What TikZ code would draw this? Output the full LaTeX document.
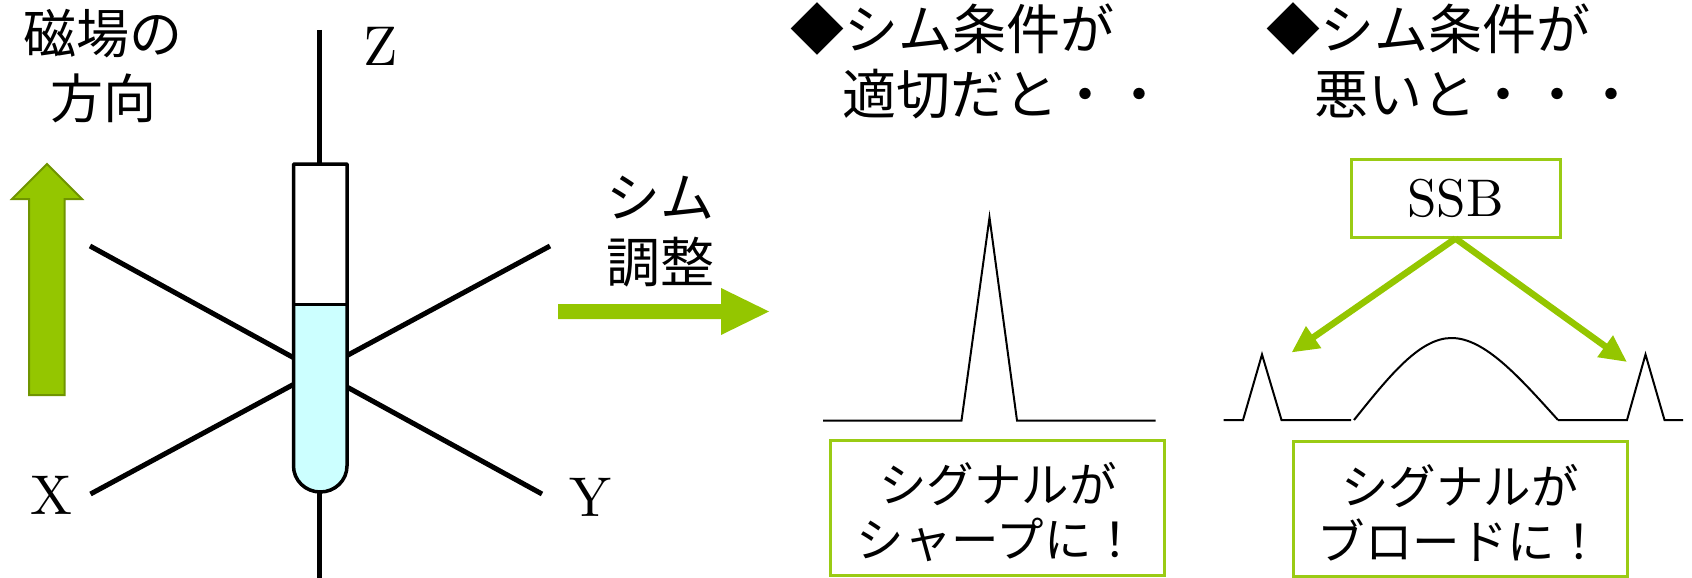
\documentclass[tikz,border=0pt]{standalone}
\usepackage{fontspec}
\usetikzlibrary{arrows.meta}
\newfontfamily\jpfont{Noto Sans CJK JP}
\newfontfamily\labelfont[Extension=.otf]{lmroman10-regular}
\definecolor{leaf}{HTML}{94C600}
\definecolor{leafedge}{HTML}{6F9400}
\definecolor{framegreen}{HTML}{9ACB14}
\definecolor{liquid}{HTML}{CCFFFF}
\tikzset{
  x=1pt,y=-1pt,
  jptext/.style={inner sep=0pt,align=center,font=\jpfont\fontsize{54}{65}\selectfont},
  fieldtext/.style={inner sep=0pt,align=center,font=\jpfont\fontsize{53}{65}\selectfont},
  boxtext/.style={inner sep=0pt,align=center,font=\jpfont\fontsize{47.5}{55}\selectfont},
  headtext/.style={jptext,align=left,anchor=north west},
  axislabel/.style={inner sep=0pt,font=\labelfont\fontsize{56}{56}\selectfont},
  axisline/.style={line width=5pt,black},
  framebox/.style={draw=framegreen,line width=3pt,fill=white,inner sep=0pt},
  spectrum/.style={line width=2pt,black,line join=miter},
  ssbarrow/.style={line width=6.5pt,leaf,-{Triangle[length=27pt,width=25pt,fill=leaf]}},
}
\begin{document}
\begin{tikzpicture}
\useasboundingbox (0,0) rectangle (1692,578);

% laboratory axes, drawn behind the sample tube
\coordinate (zt) at (319.5,30);
\coordinate (zb) at (319.5,578);
\coordinate (xa) at (90,246);
\coordinate (xb) at (542,494);
\coordinate (ya) at (90.5,494);
\coordinate (yb) at (550,246);
\draw[axisline] (xa) -- (xb);
\draw[axisline] (ya) -- (yb);
\draw[axisline] (zt) -- (zb);

% sample tube with its liquid
\fill[white] (293.5,164) rectangle (347,304.5);
\fill[liquid] (293.5,304.5) -- (347,304.5) -- (347,466)
  arc[start angle=0,end angle=180,x radius=26.75,y radius=26] -- cycle;
\draw[line width=3.5pt,line join=round] (293.5,466) -- (293.5,164) -- (347,164) -- (347,466)
  arc[start angle=0,end angle=180,x radius=26.75,y radius=26];
\draw[line width=2.5pt] (293.5,304.5) -- (347,304.5);

% field direction arrow
\draw[line width=2pt,draw=leafedge,fill=leaf,line join=miter]
  (47,164) -- (82,199) -- (64.5,199) -- (64.5,395) -- (29,395) -- (29,199) -- (12,199) -- cycle;

\node[fieldtext] (field) at (103,66) {磁場の\\方向};
\node[axislabel] (zlab) at (381,46) {Z};
\node[axislabel] (xlab) at (51,495) {X};
\node[axislabel] (ylab) at (590,497) {Y};

% shim adjustment arrow
\fill[leaf] (558,304) -- (721,304) -- (721,288) -- (769,311.5) -- (721,335) -- (721,319) -- (558,319) -- cycle;
\node[jptext] (shim) at (660.5,231.5) {シム\\調整};

% good shim column
\node[headtext] (goodhead) at (790,2) {◆シム条件が\\\hspace{0.96em}適切だと・・};
\draw[spectrum] (823,420.5) -- (961.5,420.5) -- (989.5,217.5) -- (1017,420.5) -- (1155.5,420.5);
\node[framebox,minimum width=334pt,minimum height=135pt] (sharpbox) at (997,508) {};
\node[boxtext] (sharp) at (998,512) {シグナルが\\シャープに！};

% poor shim column
\node[headtext] (badhead) at (1266,2) {◆シム条件が\\\hspace{0.9em}悪いと・・・};
\node[framebox,minimum width=209pt,minimum height=78pt,font=\labelfont\fontsize{53}{53}\selectfont] (ssb) at (1455.5,198) {SSB};
\draw[spectrum] (1223.5,420) -- (1243,420) -- (1262,354.5) -- (1281.5,420) -- (1351,420);
\draw[spectrum] (1354,420) .. controls (1390,375) and (1420,338) .. (1451.5,338)
  .. controls (1485,338) and (1520,378) .. (1558,420);
\draw[spectrum] (1558,420) -- (1627,420) -- (1645.5,354.5) -- (1664.5,420) -- (1683,420);
\coordinate (leftside) at (1291.5,352.5);
\coordinate (rightside) at (1627,362);
\draw[ssbarrow] (ssb.south) -- (leftside);
\draw[ssbarrow] (ssb.south) -- (rightside);
\node[framebox,minimum width=334.5pt,minimum height=135.5pt] (broadbox) at (1460.5,509) {};
\node[boxtext] (broad) at (1460,513) {シグナルが\\ブロードに！};
\end{tikzpicture}
\end{document}
